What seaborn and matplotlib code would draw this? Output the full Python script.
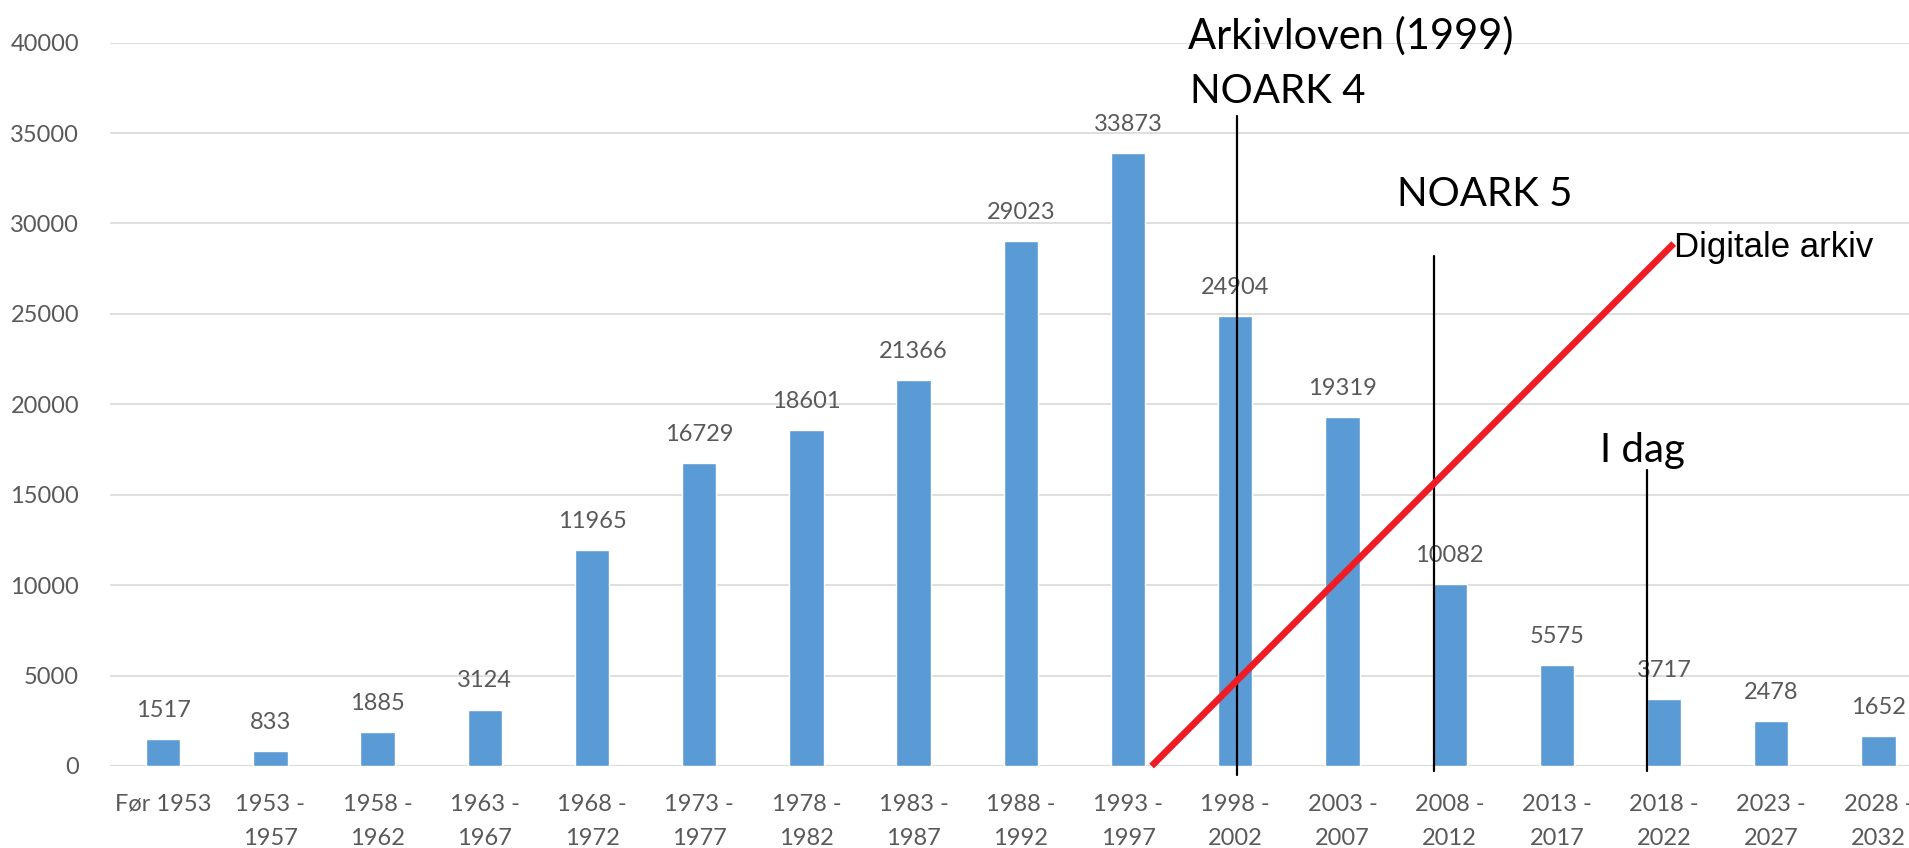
import matplotlib
matplotlib.use("Agg")
import matplotlib.pyplot as plt
import seaborn as sns
import pandas as pd

# Data
periods = ["Før 1953", "1953 -\n1957", "1958 -\n1962", "1963 -\n1967", "1968 -\n1972",
           "1973 -\n1977", "1978 -\n1982", "1983 -\n1987", "1988 -\n1992", "1993 -\n1997",
           "1998 -\n2002", "2003 -\n2007", "2008 -\n2012", "2013 -\n2017", "2018 -\n2022",
           "2023 -\n2027", "2028 -\n2032"]
counts = [1517, 833, 1885, 3124, 11965, 16729, 18601, 21366, 29023, 33873,
          24904, 19319, 10082, 5575, 3717, 2478, 1652]

# Milestone markers (x in category units, top of line in data units)
marker_x = [10.02, 11.85, 13.84]
marker_top = [35960, 28220, 16360]
marker_bottom = [-500, -300, -300]

# Red "digital" trend line
trend_x = [9.22, 14.09]
trend_y = [0, 28890]

df = pd.DataFrame({"period": periods, "count": counts})

sns.set_theme(style="white")
plt.rcParams["font.family"] = ["Lato", "DejaVu Sans"]

fig = plt.figure(figsize=(19.09, 8.48), dpi=100)
ax = fig.add_axes([0.0574, 0.0967, 0.9547, 0.853])

sns.barplot(data=df, x="period", y="count", color="#5B9BD5", width=0.32,
            saturation=1, ax=ax)

ax.set_xlim(-0.5, 16.5)
ax.set_ylim(0, 40000)
ax.set_yticks(range(0, 40001, 5000))
ax.grid(axis="y", color="#d9d9d9", linewidth=1.2)
ax.set_axisbelow(True)
for s in ax.spines.values():
    s.set_visible(False)
ax.axhline(0, color="#d9d9d9", linewidth=1.5, zorder=0.5)
ax.set_xlabel("")
ax.set_ylabel("")
ax.tick_params(axis="both", length=0, labelsize=17, colors="#595959")
ax.tick_params(axis="y", pad=22)
ax.tick_params(axis="x", pad=20)
for lab in ax.get_xticklabels():
    lab.set_linespacing(1.75)
    lab.set_verticalalignment("top")

ax.bar_label(ax.containers[0], labels=[str(v) for v in counts], padding=13,
             fontsize=17, color="#595959")

# milestone lines
for mx, top, bot in zip(marker_x, marker_top, marker_bottom):
    ax.plot([mx, mx], [bot, top], color="black", linewidth=1.6, clip_on=False, zorder=4)

ax.plot(trend_x, trend_y, color="#EE1C25", linewidth=4.8, solid_capstyle="butt",
        clip_on=False, zorder=5)

ax.text(9.56, 40340, "Arkivloven (1999)", fontsize=30, va="center", ha="left",
        color="black", clip_on=False)
ax.text(9.58, 37300, "NOARK 4", fontsize=29, va="center", ha="left", color="black")
ax.text(11.51, 31580, "NOARK 5", fontsize=29, va="center", ha="left", color="black")
ax.text(13.40, 17440, "I dag", fontsize=29, va="center", ha="left", color="black")
ax.text(14.09, 28690, "Digitale arkiv", fontsize=25, va="center", ha="left",
        color="black", family=["Liberation Sans", "DejaVu Sans"])

fig.savefig("out.png", dpi=100)
